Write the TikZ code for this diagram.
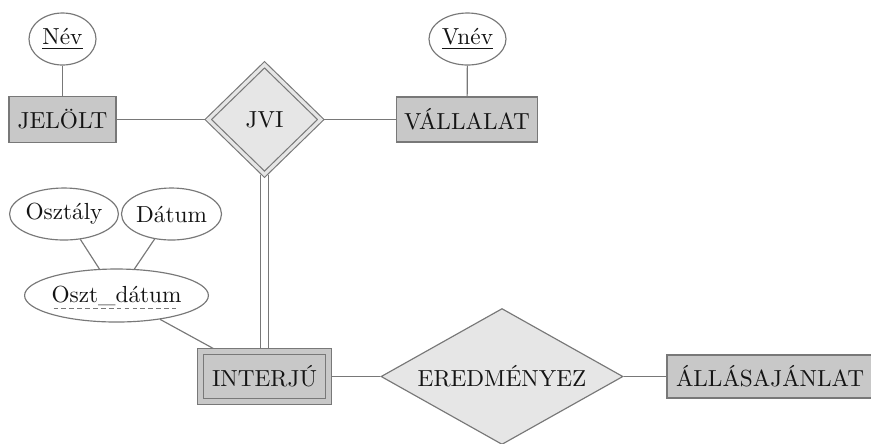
\documentclass[tikz,border=0pt]{standalone}
\usetikzlibrary{shapes.geometric,backgrounds}

\definecolor{entfill}{RGB}{200,200,200}
\definecolor{relfill}{RGB}{230,230,230}
\definecolor{edgegray}{RGB}{120,120,120}
\definecolor{inkgray}{RGB}{20,20,20}

% one drawing unit
\def\PX{0.43pt}

\begin{document}
\begin{tikzpicture}[x=0.43pt,y=-0.43pt,
  every node/.style={text=inkgray, line width=0.5pt},
  entity/.style={draw=edgegray, fill=entfill, rectangle, inner sep=0pt},
  weakentity/.style={entity, double=entfill, double distance=2.4pt},
  attr/.style={draw=edgegray, fill=white, ellipse, inner sep=0pt},
  rel/.style={draw=edgegray, fill=relfill, diamond, inner sep=0pt},
  idrel/.style={rel, double=relfill, double distance=1.4pt},
  link/.style={draw=edgegray, line width=0.5pt},
  idlink/.style={link, double=white, double distance=2.7pt}]

\useasboundingbox (0,0) rectangle (871,443);

% entities and relationships
\node[entity, minimum width=107*\PX, minimum height=46*\PX] (jelolt) at (62.5,119.5) {JELÖLT};
\node[idrel, minimum width=113*\PX, minimum height=110*\PX, aspect=1] (jvi) at (264.5,119.5) {JVI};
\node[entity, minimum width=141*\PX, minimum height=45*\PX] (vallalat) at (467,119.5) {VÁLLALAT};
\node[weakentity, minimum width=128*\PX, minimum height=50*\PX] (interju) at (264.5,376.5) {INTERJÚ};
\node[rel, minimum width=242*\PX, minimum height=136*\PX, aspect=1.78] (eredmenyez) at (502,376.5) {EREDMÉNYEZ};
\node[entity, minimum width=206*\PX, minimum height=43*\PX] (allas) at (770,376.5) {ÁLLÁSAJÁNLAT};

% attributes
\node[attr, minimum width=67*\PX, minimum height=52*\PX] (nev) at (62.5,39) {\underline{Név}};
\node[attr, minimum width=77*\PX, minimum height=52*\PX] (vnev) at (467.5,39) {\underline{Vnév}};
\node[attr, minimum width=102*\PX, minimum height=52*\PX] (osztaly) at (64,214) {Osztály};
\node[attr, minimum width=97*\PX, minimum height=52*\PX] (datum) at (171.5,214) {Dátum};
\node[attr, minimum width=157*\PX, minimum height=53*\PX] (osztdatum) at (116.5,295.5) {Oszt\_dátum};

% partial key marker
\draw[edgegray, line width=0.5pt, dash pattern=on 2pt off 1.4pt]
  ([shift={(-63,6)}]osztdatum.base) -- ([shift={(59,6)}]osztdatum.base);

% connectors
\begin{scope}[on background layer]
  \draw[link] (nev) -- (jelolt);
  \draw[link] (vnev) -- (vallalat);
  \draw[link] (jelolt) -- (jvi);
  \draw[link] (jvi) -- (vallalat);
  \draw[idlink] (jvi.south) -- (interju.north);
  \draw[link] (osztaly) -- (osztdatum);
  \draw[link] (datum) -- (osztdatum);
  \draw[link] (osztdatum) -- (interju);
  \draw[link] (interju) -- (eredmenyez);
  \draw[link] (eredmenyez) -- (allas);
\end{scope}
\end{tikzpicture}
\end{document}
